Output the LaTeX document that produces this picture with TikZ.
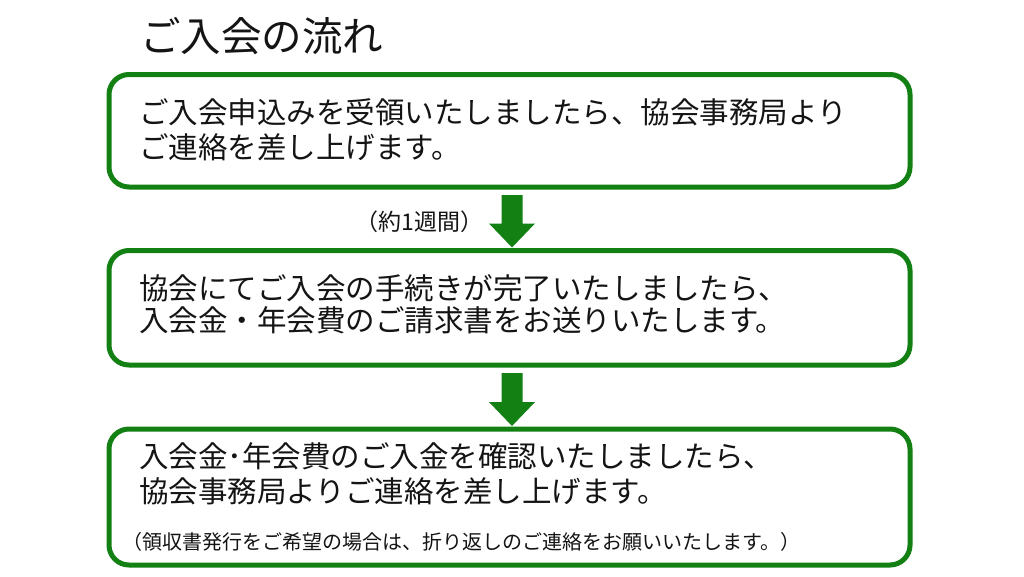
\documentclass[tikz,border=0pt]{standalone}
\usepackage{fontspec}
\setmainfont{Noto Sans CJK JP}
\newfontfamily\halffont[RawFeature=+halt]{Noto Sans CJK JP}
\usetikzlibrary{calc}
\definecolor{fgreen}{RGB}{18,128,18}
\definecolor{ink}{RGB}{20,20,20}
\begin{document}
\begin{tikzpicture}[x=1pt,y=-1pt,
  box/.style={draw=fgreen, line width=5pt, rounded corners=20pt, minimum width=801pt, inner sep=0pt, outer sep=0pt},
  txt/.style={anchor=west, inner sep=0pt, text=ink, font=\fontsize{29.5}{35}\selectfont},
  small/.style={anchor=west, inner sep=0pt, text=ink, font=\fontsize{20}{24}\selectfont},
  arrowfill/.style={fill=fgreen}]
\path[use as bounding box, fill=white] (0,0) rectangle (1024,576);

\node[anchor=west, inner sep=0pt, text=ink, font=\fontsize{40.5}{48}\selectfont] (title) at (140,36) {ご入会の流れ};

\node[box, minimum height=112.5pt] (b1) at (509.5,130.75) {};
\node[box, minimum height=114.5pt] (b2) at (509.5,307.75) {};
\node[box, minimum height=136pt] (b3) at (509.5,497) {};

\node[txt] (t11) at (139,112) {ご入会申込みを受領いたしましたら、協会事務局より};
\node[txt] (t12) at (139,147) {ご連絡を差し上げます。};

\node[small, font=\fontsize{23}{27}\selectfont] (lab) at (367,222) {{\halffont （}約1週間{\halffont ）}};

\node[txt] (t21) at (139,288) {協会にてご入会の手続きが完了いたしましたら、};
\node[txt] (t22) at (139,320) {入会金・年会費のご請求書をお送りいたします。};

\node[txt] (t31) at (139,456) {入会金･年会費のご入金を確認いたしましたら、};
\node[txt] (t32) at (139,491) {協会事務局よりご連絡を差し上げます。};
\node[small] (note) at (132,542) {{\halffont （}領収書発行をご希望の場合は、折り返しのご連絡をお願いいたします。{\halffont ）}};

\coordinate (a1) at ($(b1.south)+(2.5,8)$);
\coordinate (h1) at ($(b2.north)+(2.5,-3)$);
\fill[arrowfill] ($(a1)+(-10.5,0)$) -- ($(a1)+(10.5,0)$) -- ($(h1)+(10.5,-24)$) -- ($(h1)+(23,-24)$) -- (h1) -- ($(h1)+(-23,-24)$) -- ($(h1)+(-10.5,-24)$) -- cycle;

\coordinate (a2) at ($(b2.south)+(2.5,8)$);
\coordinate (h2) at ($(b3.north)+(2.5,-3)$);
\fill[arrowfill] ($(a2)+(-10.5,0)$) -- ($(a2)+(10.5,0)$) -- ($(h2)+(10.5,-24)$) -- ($(h2)+(23,-24)$) -- (h2) -- ($(h2)+(-23,-24)$) -- ($(h2)+(-10.5,-24)$) -- cycle;
\end{tikzpicture}
\end{document}
